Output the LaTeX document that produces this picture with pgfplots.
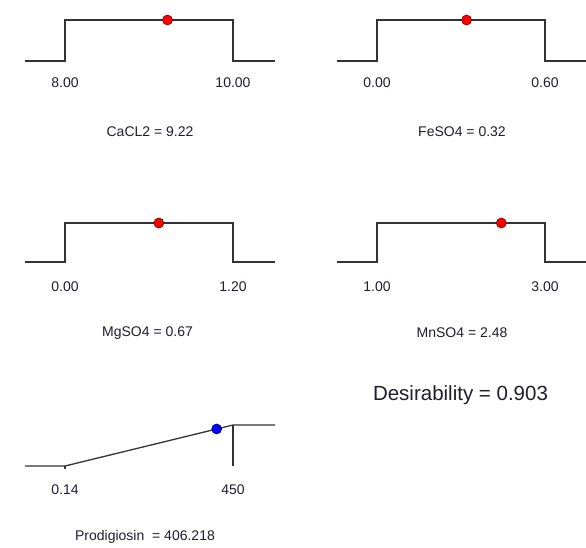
\documentclass[border=0pt]{standalone}
\usepackage{fontspec}
\setmainfont{Liberation Sans}
\usepackage{pgfplots}
\pgfplotsset{compat=1.18}
\definecolor{ln}{HTML}{333333}
\definecolor{txt}{HTML}{1E1E2C}
\pgfplotsset{panel/.style={scale only axis, width=250pt, height=41pt, ymin=0, ymax=1, hide axis, clip=false, anchor=south west},
  stepline/.style={ln, line width=1.3pt, line join=miter},
  dotr/.style={only marks, mark=*, mark size=5pt, mark options={fill=red, draw=red!45!black, line width=0.6pt}},
  dotb/.style={only marks, mark=*, mark size=5pt, mark options={fill=blue, draw=blue!40!black, line width=0.6pt}}}
\newcommand{\lbl}{\fontsize{14}{16}\selectfont}
\begin{document}
\begin{tikzpicture}[x=1pt,y=1pt]
\path[use as bounding box] (0,0) rectangle (586,547);
% CaCL2
\begin{axis}[panel, at={(25pt,486pt)}, xmin=7.5238, xmax=10.5]
\addplot[stepline] coordinates {(7.5238,0) (8,0) (8,1) (10,1) (10,0) (10.5,0)};
\addplot[dotr] coordinates {(9.22,1)};
\node[txt, font=\lbl, yshift=-22pt] at (axis cs:8,0) {8.00};
\node[txt, font=\lbl, yshift=-22pt] at (axis cs:10,0) {10.00};
\node[txt, font=\lbl, yshift=-71pt] at (rel axis cs:0.5,0) {CaCL2 = 9.22};
\end{axis}
% FeSO4
\begin{axis}[panel, at={(337pt,486pt)}, xmin=-0.142857, xmax=0.75]
\addplot[stepline] coordinates {(-0.142857,0) (0,0) (0,1) (0.6,1) (0.6,0) (0.75,0)};
\addplot[dotr] coordinates {(0.32,1)};
\node[txt, font=\lbl, yshift=-22pt] at (axis cs:0,0) {0.00};
\node[txt, font=\lbl, yshift=-22pt] at (axis cs:0.6,0) {0.60};
\node[txt, font=\lbl, yshift=-71pt] at (rel axis cs:0.5,0) {FeSO4 = 0.32};
\end{axis}
% MgSO4
\begin{axis}[panel, height=39pt, at={(25pt,285pt)}, xmin=-0.285714, xmax=1.5]
\addplot[stepline] coordinates {(-0.285714,0) (0,0) (0,1) (1.2,1) (1.2,0) (1.5,0)};
\addplot[dotr] coordinates {(0.67,1)};
\node[txt, font=\lbl, yshift=-25pt] at (axis cs:0,0) {0.00};
\node[txt, font=\lbl, yshift=-25pt] at (axis cs:1.2,0) {1.20};
\node[txt, font=\lbl, yshift=-71pt] at (rel axis cs:0.49,0) {MgSO4 = 0.67};
\end{axis}
% MnSO4
\begin{axis}[panel, height=39pt, at={(337pt,285pt)}, xmin=0.52381, xmax=3.5]
\addplot[stepline] coordinates {(0.52381,0) (1,0) (1,1) (3,1) (3,0) (3.5,0)};
\addplot[dotr] coordinates {(2.48,1)};
\node[txt, font=\lbl, yshift=-25pt] at (axis cs:1,0) {1.00};
\node[txt, font=\lbl, yshift=-25pt] at (axis cs:3,0) {3.00};
\node[txt, font=\lbl, yshift=-71pt] at (rel axis cs:0.5,0) {MnSO4 = 2.48};
\end{axis}
% Prodigiosin
\begin{axis}[panel, at={(25pt,81pt)}, xmin=-106.97, xmax=562.465]
\addplot[stepline] coordinates {(-106.97,0) (0.14,0) (450,1) (562.465,1)};
\addplot[stepline] coordinates {(0.14,0) (0.14,-0.08)};
\addplot[stepline] coordinates {(450,1) (450,0)};
\addplot[dotb] coordinates {(406.218,0.903)};
\node[txt, font=\lbl, yshift=-24pt] at (axis cs:0.14,0) {0.14};
\node[txt, font=\lbl, yshift=-24pt] at (axis cs:450,0) {450};
\node[txt, font=\lbl, yshift=-71pt] at (rel axis cs:0.48,0) {Prodigiosin\ \ = 406.218};
\end{axis}
\node[txt, font=\fontsize{20.5}{24}\selectfont] at (460.5,152) {Desirability = 0.903};
\end{tikzpicture}
\end{document}
